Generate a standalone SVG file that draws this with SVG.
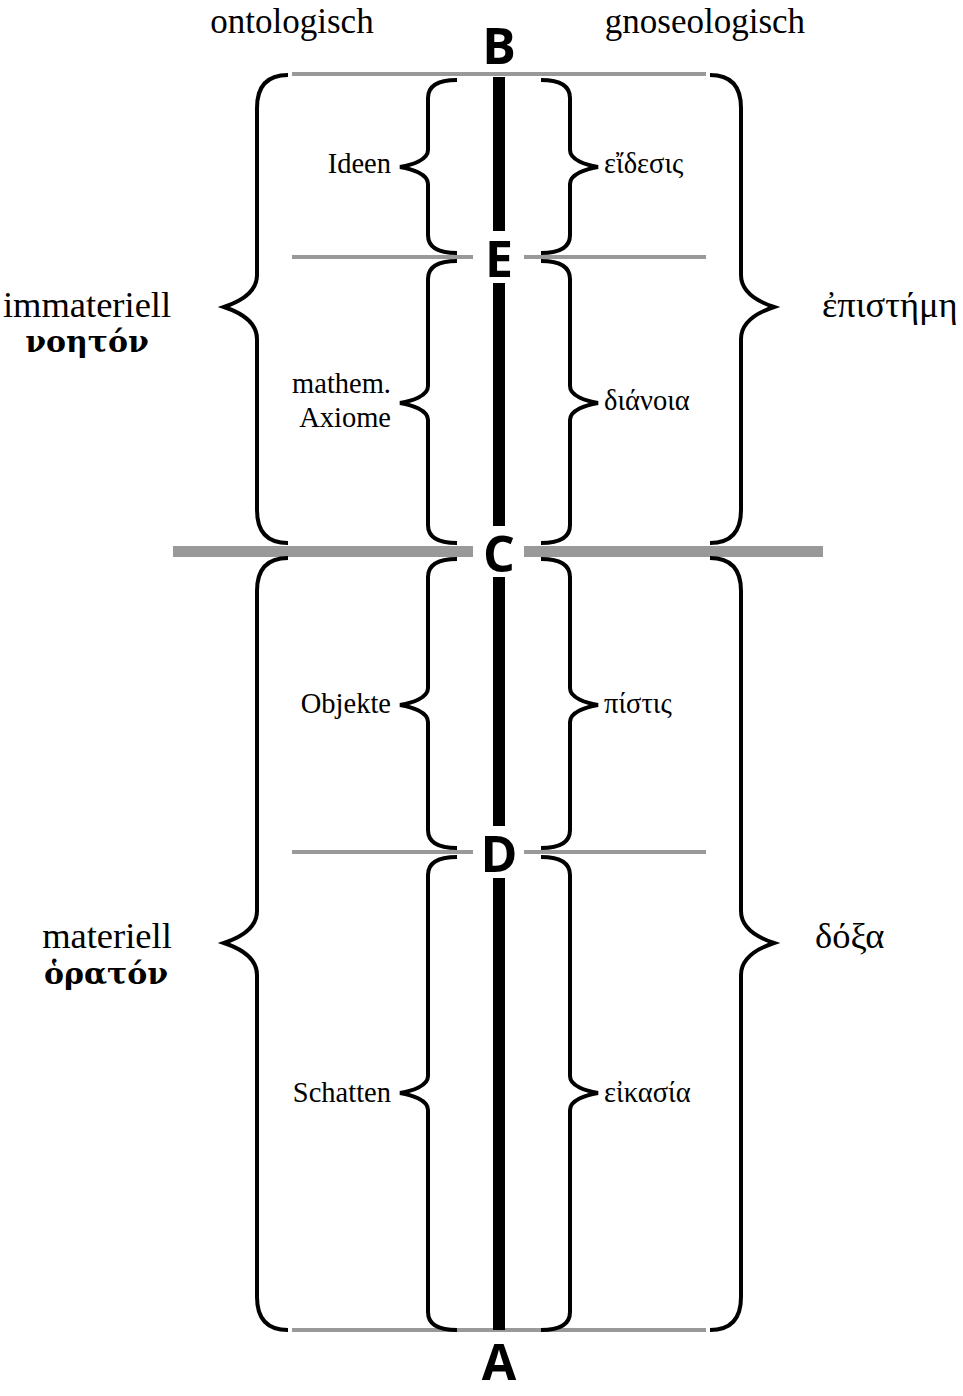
<svg xmlns="http://www.w3.org/2000/svg" xmlns:xlink="http://www.w3.org/1999/xlink" width="963" height="1396" viewBox="0 0 963 1396">
<style>
.g{stroke:#999;fill:none}
.br{stroke:#000;stroke-width:4;fill:none;stroke-linecap:butt}
.ax{stroke:#000;stroke-width:12}
.big{font-family:"Liberation Serif",serif;font-size:36.5px;fill:#000}
.hd{font-family:"Liberation Serif",serif;font-size:35px;fill:#000;text-anchor:middle}
.sm{font-family:"Liberation Serif",serif;font-size:28.5px;fill:#000}
.bd{font-family:"DejaVu Serif","Liberation Serif",serif;font-weight:bold;font-size:30px;fill:#000}
.pt{font-family:"Open Sans","DejaVu Sans",sans-serif;font-weight:bold;font-size:50px;text-anchor:middle;fill:#000}
</style>
<defs>
<path id="bs1" d="M457,80 Q428,80 428,98 L428,150 C428,160 412,165 400,167 C412,169 428,174 428,184 L428,235 Q428,253 457,253"/>
<path id="bs2" d="M457,261 Q428,261 428,279 L428,386 C428,396 412,401 400,403 C412,405 428,410 428,420 L428,525 Q428,543 457,543"/>
<path id="bs3" d="M457,559 Q428,559 428,577 L428,688 C428,698 412,703 400,705 C412,707 428,712 428,722 L428,830 Q428,848 457,848"/>
<path id="bs4" d="M457,857 Q428,857 428,875 L428,1076 C428,1086 412,1091 400,1093 C412,1095 428,1100 428,1110 L428,1312 Q428,1330 457,1330"/>
<path id="bb1" d="M288,75 Q257,75 257,108 L257,275 C257,294 236,303 224,307 C236,311 257,320 257,339 L257,510 Q257,543 288,543"/>
<path id="bb2" d="M288,558 Q257,558 257,591 L257,911 C257,930 236,939 224,943 C236,947 257,956 257,975 L257,1297 Q257,1330 288,1330"/>
</defs>
<g id="connectors">
<g class="g" stroke-width="4">
<line x1="292" y1="74" x2="706" y2="74"/>
<line x1="292" y1="257" x2="473" y2="257"/>
<line x1="524" y1="257" x2="706" y2="257"/>
<line x1="292" y1="852" x2="473" y2="852"/>
<line x1="524" y1="852" x2="706" y2="852"/>
<line x1="292" y1="1330" x2="706" y2="1330"/>
</g>
<g class="g" stroke-width="11">
<line x1="173" y1="551.5" x2="473" y2="551.5"/>
<line x1="524" y1="551.5" x2="823" y2="551.5"/>
</g>
<g class="ax">
<line x1="499" y1="77" x2="499" y2="231"/>
<line x1="499" y1="283" x2="499" y2="526"/>
<line x1="499" y1="577" x2="499" y2="826"/>
<line x1="499" y1="878" x2="499" y2="1330"/>
</g>
</g>
<g id="braces-left" class="br">
<use xlink:href="#bb1"/><use xlink:href="#bb2"/>
<use xlink:href="#bs1"/><use xlink:href="#bs2"/><use xlink:href="#bs3"/><use xlink:href="#bs4"/>
</g>
<g id="braces-right" class="br" transform="matrix(-1 0 0 1 998 0)">
<use xlink:href="#bb1"/><use xlink:href="#bb2"/>
<use xlink:href="#bs1"/><use xlink:href="#bs2"/><use xlink:href="#bs3"/><use xlink:href="#bs4"/>
</g>
<g id="point-B"><text class="pt" x="499" y="64">B</text></g>
<g id="point-E"><text class="pt" x="499" y="277">E</text></g>
<g id="point-C"><text class="pt" x="499" y="572">C</text></g>
<g id="point-D"><text class="pt" x="499" y="872">D</text></g>
<g id="point-A"><text class="pt" x="499" y="1380">A</text></g>
<g id="head-ontologisch"><text class="hd" x="292" y="33">ontologisch</text></g>
<g id="head-gnoseologisch"><text class="hd" x="705" y="33">gnoseologisch</text></g>
<g id="noeton"><text class="big" x="87" y="317" text-anchor="middle">immateriell</text><text class="bd" x="87" y="352" text-anchor="middle">νοητόν</text></g>
<g id="episteme"><text class="big" x="822" y="317">ἐπιστήμη</text></g>
<g id="horaton"><text class="big" x="107" y="948" text-anchor="middle">materiell</text><text class="bd" x="106" y="984" text-anchor="middle">ὁρατόν</text></g>
<g id="doxa"><text class="big" x="815" y="948">δόξα</text></g>
<g id="ideen"><text class="sm" x="391" y="173" text-anchor="end">Ideen</text></g>
<g id="eidesis"><text class="sm" x="604" y="173">εἴδεσις</text></g>
<g id="axiome"><text class="sm" x="391" y="393" text-anchor="end">mathem.</text><text class="sm" x="391" y="427" text-anchor="end">Axiome</text></g>
<g id="dianoia"><text class="sm" x="604" y="410">διάνοια</text></g>
<g id="objekte"><text class="sm" x="391" y="713" text-anchor="end">Objekte</text></g>
<g id="pistis"><text class="sm" x="604" y="713">πίστις</text></g>
<g id="schatten"><text class="sm" x="391" y="1102" text-anchor="end">Schatten</text></g>
<g id="eikasia"><text class="sm" x="604" y="1102">εἰκασία</text></g>
</svg>
